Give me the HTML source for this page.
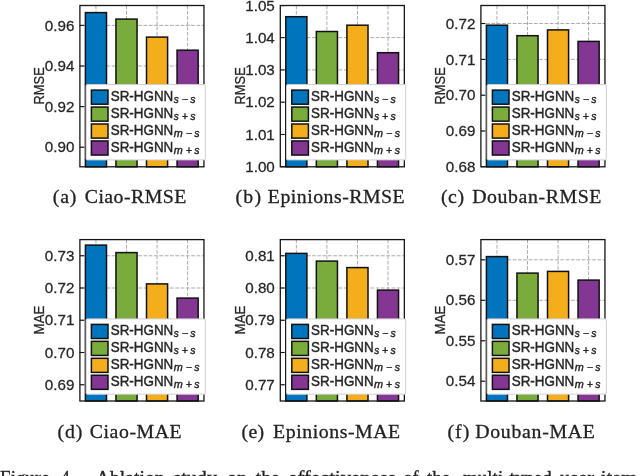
<!DOCTYPE html>
<html><head><meta charset="utf-8"><title>Figure 4</title>
<style>
html,body{margin:0;padding:0;background:#fff;}
body{width:640px;height:476px;overflow:hidden;}
svg{display:block;will-change:transform;}
text{font-family:"Liberation Sans",sans-serif;fill:#262626;}
.g{stroke:#a2a2a2;stroke-width:0.9;stroke-dasharray:3.7 1.6;}
.b{stroke:#111;stroke-width:1.5;}
.t{stroke:#151515;stroke-width:1.1;}
.f{stroke:#151515;stroke-width:1.3;}
.tl{font-size:14.2px;stroke:#262626;stroke-width:0.25;}
.lg{font-size:14.3px;stroke:#262626;stroke-width:0.42;}
.sub{font-size:10.5px;font-style:italic;stroke:#262626;stroke-width:0.4;}
.yl{font-size:14.2px;stroke:#262626;stroke-width:0.25;}
.cap{font-family:"Liberation Serif",serif;font-size:19.8px;fill:#222;stroke:#222;stroke-width:0.3;}
.fig{font-family:"Liberation Serif",serif;font-size:14.2px;fill:#2a2a2a;}
</style></head><body>
<svg width="640" height="476" viewBox="0 0 640 476">
<rect width="640" height="476" fill="#fff"/>
<line x1="79.9" x2="203.95" y1="25.4" y2="25.4" class="g"/>
<line x1="79.9" x2="203.95" y1="66" y2="66" class="g"/>
<line x1="79.9" x2="203.95" y1="106.6" y2="106.6" class="g"/>
<line x1="79.9" x2="203.95" y1="147.2" y2="147.2" class="g"/>
<line x1="95.95" x2="95.95" y1="5.5" y2="166.8" class="g"/>
<line x1="126.5" x2="126.5" y1="5.5" y2="166.8" class="g"/>
<line x1="157.05" x2="157.05" y1="5.5" y2="166.8" class="g"/>
<line x1="187.6" x2="187.6" y1="5.5" y2="166.8" class="g"/>
<rect x="85.4" y="12.6" width="21.1" height="154.2" fill="#0075BE" class="b"/>
<rect x="115.95" y="19.1" width="21.1" height="147.7" fill="#79AC3C" class="b"/>
<rect x="146.5" y="37.1" width="21.1" height="129.7" fill="#F4AE1C" class="b"/>
<rect x="177.05" y="50.2" width="21.1" height="116.6" fill="#833793" class="b"/>
<line x1="79.9" x2="84.4" y1="25.4" y2="25.4" class="t"/>
<text transform="translate(74.4,30.5) scale(1.07,1)" class="tl" text-anchor="end">0.96</text>
<line x1="79.9" x2="84.4" y1="66" y2="66" class="t"/>
<text transform="translate(74.4,71.1) scale(1.07,1)" class="tl" text-anchor="end">0.94</text>
<line x1="79.9" x2="84.4" y1="106.6" y2="106.6" class="t"/>
<text transform="translate(74.4,111.7) scale(1.07,1)" class="tl" text-anchor="end">0.92</text>
<line x1="79.9" x2="84.4" y1="147.2" y2="147.2" class="t"/>
<text transform="translate(74.4,152.3) scale(1.07,1)" class="tl" text-anchor="end">0.90</text>
<rect x="79.9" y="5.5" width="124.05" height="161.3" fill="none" class="f"/>
<rect x="86.1" y="84.6" width="119.2" height="75.3" rx="1.2" fill="#fff" stroke="#cfcfcf" stroke-width="1"/>
<rect x="91.4" y="90.1" width="16.6" height="14.1" fill="#0075BE" class="b"/>
<text x="110.7" y="100.95" class="lg" textLength="62.6" lengthAdjust="spacingAndGlyphs">SR-HGNN</text>
<text y="103.05" class="sub"><tspan x="173.8" textLength="5.0" lengthAdjust="spacingAndGlyphs">s</tspan><tspan x="181.7" dy="0">−</tspan><tspan x="190.2" dy="0">s</tspan></text>
<rect x="91.4" y="107.05" width="16.6" height="14.1" fill="#79AC3C" class="b"/>
<text x="110.7" y="117.85" class="lg" textLength="62.6" lengthAdjust="spacingAndGlyphs">SR-HGNN</text>
<text y="119.95" class="sub"><tspan x="173.8" textLength="5.0" lengthAdjust="spacingAndGlyphs">s</tspan><tspan x="181.7" dy="0">+</tspan><tspan x="190.2" dy="0">s</tspan></text>
<rect x="91.4" y="124" width="16.6" height="14.1" fill="#F4AE1C" class="b"/>
<text x="110.7" y="134.75" class="lg" textLength="62.6" lengthAdjust="spacingAndGlyphs">SR-HGNN</text>
<text y="136.85" class="sub"><tspan x="173.7" textLength="9.0" lengthAdjust="spacingAndGlyphs">m</tspan><tspan x="185.7" dy="0">−</tspan><tspan x="194.3" dy="0">s</tspan></text>
<rect x="91.4" y="140.95" width="16.6" height="14.1" fill="#833793" class="b"/>
<text x="110.7" y="151.65" class="lg" textLength="62.6" lengthAdjust="spacingAndGlyphs">SR-HGNN</text>
<text y="153.75" class="sub"><tspan x="173.7" textLength="9.0" lengthAdjust="spacingAndGlyphs">m</tspan><tspan x="185.7" dy="0">+</tspan><tspan x="194.3" dy="0">s</tspan></text>
<text transform="translate(44.2,85.85) rotate(-90)" class="yl" text-anchor="middle" textLength="37.2" lengthAdjust="spacingAndGlyphs">RMSE</text>
<text x="52.8" y="203.4" class="cap" textLength="23.5" lengthAdjust="spacing">(a)</text>
<text x="84.7" y="203.4" class="cap" textLength="101.7" lengthAdjust="spacing">Ciao-RMSE</text>
<line x1="280.3" x2="404.35" y1="37.6" y2="37.6" class="g"/>
<line x1="280.3" x2="404.35" y1="69.9" y2="69.9" class="g"/>
<line x1="280.3" x2="404.35" y1="102.2" y2="102.2" class="g"/>
<line x1="280.3" x2="404.35" y1="134.5" y2="134.5" class="g"/>
<line x1="296.35" x2="296.35" y1="5.5" y2="166.8" class="g"/>
<line x1="326.9" x2="326.9" y1="5.5" y2="166.8" class="g"/>
<line x1="357.45" x2="357.45" y1="5.5" y2="166.8" class="g"/>
<line x1="388" x2="388" y1="5.5" y2="166.8" class="g"/>
<rect x="285.8" y="16.7" width="21.1" height="150.1" fill="#0075BE" class="b"/>
<rect x="316.35" y="31.5" width="21.1" height="135.3" fill="#79AC3C" class="b"/>
<rect x="346.9" y="25.2" width="21.1" height="141.6" fill="#F4AE1C" class="b"/>
<rect x="377.45" y="52.7" width="21.1" height="114.1" fill="#833793" class="b"/>
<line x1="280.3" x2="284.8" y1="5.6" y2="5.6" class="t"/>
<text transform="translate(274.8,10.7) scale(1.07,1)" class="tl" text-anchor="end">1.05</text>
<line x1="280.3" x2="284.8" y1="37.6" y2="37.6" class="t"/>
<text transform="translate(274.8,42.7) scale(1.07,1)" class="tl" text-anchor="end">1.04</text>
<line x1="280.3" x2="284.8" y1="69.9" y2="69.9" class="t"/>
<text transform="translate(274.8,75) scale(1.07,1)" class="tl" text-anchor="end">1.03</text>
<line x1="280.3" x2="284.8" y1="102.2" y2="102.2" class="t"/>
<text transform="translate(274.8,107.3) scale(1.07,1)" class="tl" text-anchor="end">1.02</text>
<line x1="280.3" x2="284.8" y1="134.5" y2="134.5" class="t"/>
<text transform="translate(274.8,139.6) scale(1.07,1)" class="tl" text-anchor="end">1.01</text>
<line x1="280.3" x2="284.8" y1="166.7" y2="166.7" class="t"/>
<text transform="translate(274.8,171.8) scale(1.07,1)" class="tl" text-anchor="end">1.00</text>
<rect x="280.3" y="5.5" width="124.05" height="161.3" fill="none" class="f"/>
<rect x="286.5" y="84.6" width="119.2" height="75.3" rx="1.2" fill="#fff" stroke="#cfcfcf" stroke-width="1"/>
<rect x="291.8" y="90.1" width="16.6" height="14.1" fill="#0075BE" class="b"/>
<text x="311.1" y="100.95" class="lg" textLength="62.6" lengthAdjust="spacingAndGlyphs">SR-HGNN</text>
<text y="103.05" class="sub"><tspan x="374.2" textLength="5.0" lengthAdjust="spacingAndGlyphs">s</tspan><tspan x="382.1" dy="0">−</tspan><tspan x="390.6" dy="0">s</tspan></text>
<rect x="291.8" y="107.05" width="16.6" height="14.1" fill="#79AC3C" class="b"/>
<text x="311.1" y="117.85" class="lg" textLength="62.6" lengthAdjust="spacingAndGlyphs">SR-HGNN</text>
<text y="119.95" class="sub"><tspan x="374.2" textLength="5.0" lengthAdjust="spacingAndGlyphs">s</tspan><tspan x="382.1" dy="0">+</tspan><tspan x="390.6" dy="0">s</tspan></text>
<rect x="291.8" y="124" width="16.6" height="14.1" fill="#F4AE1C" class="b"/>
<text x="311.1" y="134.75" class="lg" textLength="62.6" lengthAdjust="spacingAndGlyphs">SR-HGNN</text>
<text y="136.85" class="sub"><tspan x="374.1" textLength="9.0" lengthAdjust="spacingAndGlyphs">m</tspan><tspan x="386.1" dy="0">−</tspan><tspan x="394.7" dy="0">s</tspan></text>
<rect x="291.8" y="140.95" width="16.6" height="14.1" fill="#833793" class="b"/>
<text x="311.1" y="151.65" class="lg" textLength="62.6" lengthAdjust="spacingAndGlyphs">SR-HGNN</text>
<text y="153.75" class="sub"><tspan x="374.1" textLength="9.0" lengthAdjust="spacingAndGlyphs">m</tspan><tspan x="386.1" dy="0">+</tspan><tspan x="394.7" dy="0">s</tspan></text>
<text transform="translate(244.6,85.85) rotate(-90)" class="yl" text-anchor="middle" textLength="37.2" lengthAdjust="spacingAndGlyphs">RMSE</text>
<text x="235.6" y="203.4" class="cap" textLength="25.4" lengthAdjust="spacing">(b)</text>
<text x="267.8" y="203.4" class="cap" textLength="136.9" lengthAdjust="spacing">Epinions-RMSE</text>
<line x1="480.9" x2="604.95" y1="23.5" y2="23.5" class="g"/>
<line x1="480.9" x2="604.95" y1="59.4" y2="59.4" class="g"/>
<line x1="480.9" x2="604.95" y1="95.2" y2="95.2" class="g"/>
<line x1="480.9" x2="604.95" y1="131" y2="131" class="g"/>
<line x1="496.95" x2="496.95" y1="5.5" y2="166.8" class="g"/>
<line x1="527.5" x2="527.5" y1="5.5" y2="166.8" class="g"/>
<line x1="558.05" x2="558.05" y1="5.5" y2="166.8" class="g"/>
<line x1="588.6" x2="588.6" y1="5.5" y2="166.8" class="g"/>
<rect x="486.4" y="25.2" width="21.1" height="141.6" fill="#0075BE" class="b"/>
<rect x="516.95" y="35.7" width="21.1" height="131.1" fill="#79AC3C" class="b"/>
<rect x="547.5" y="29.9" width="21.1" height="136.9" fill="#F4AE1C" class="b"/>
<rect x="578.05" y="41.4" width="21.1" height="125.4" fill="#833793" class="b"/>
<line x1="480.9" x2="485.4" y1="23.5" y2="23.5" class="t"/>
<text transform="translate(475.4,28.6) scale(1.07,1)" class="tl" text-anchor="end">0.72</text>
<line x1="480.9" x2="485.4" y1="59.4" y2="59.4" class="t"/>
<text transform="translate(475.4,64.5) scale(1.07,1)" class="tl" text-anchor="end">0.71</text>
<line x1="480.9" x2="485.4" y1="95.2" y2="95.2" class="t"/>
<text transform="translate(475.4,100.3) scale(1.07,1)" class="tl" text-anchor="end">0.70</text>
<line x1="480.9" x2="485.4" y1="131" y2="131" class="t"/>
<text transform="translate(475.4,136.1) scale(1.07,1)" class="tl" text-anchor="end">0.69</text>
<line x1="480.9" x2="485.4" y1="166.6" y2="166.6" class="t"/>
<text transform="translate(475.4,171.7) scale(1.07,1)" class="tl" text-anchor="end">0.68</text>
<rect x="480.9" y="5.5" width="124.05" height="161.3" fill="none" class="f"/>
<rect x="487.1" y="84.6" width="119.2" height="75.3" rx="1.2" fill="#fff" stroke="#cfcfcf" stroke-width="1"/>
<rect x="492.4" y="90.1" width="16.6" height="14.1" fill="#0075BE" class="b"/>
<text x="511.7" y="100.95" class="lg" textLength="62.6" lengthAdjust="spacingAndGlyphs">SR-HGNN</text>
<text y="103.05" class="sub"><tspan x="574.8" textLength="5.0" lengthAdjust="spacingAndGlyphs">s</tspan><tspan x="582.7" dy="0">−</tspan><tspan x="591.2" dy="0">s</tspan></text>
<rect x="492.4" y="107.05" width="16.6" height="14.1" fill="#79AC3C" class="b"/>
<text x="511.7" y="117.85" class="lg" textLength="62.6" lengthAdjust="spacingAndGlyphs">SR-HGNN</text>
<text y="119.95" class="sub"><tspan x="574.8" textLength="5.0" lengthAdjust="spacingAndGlyphs">s</tspan><tspan x="582.7" dy="0">+</tspan><tspan x="591.2" dy="0">s</tspan></text>
<rect x="492.4" y="124" width="16.6" height="14.1" fill="#F4AE1C" class="b"/>
<text x="511.7" y="134.75" class="lg" textLength="62.6" lengthAdjust="spacingAndGlyphs">SR-HGNN</text>
<text y="136.85" class="sub"><tspan x="574.7" textLength="9.0" lengthAdjust="spacingAndGlyphs">m</tspan><tspan x="586.7" dy="0">−</tspan><tspan x="595.3" dy="0">s</tspan></text>
<rect x="492.4" y="140.95" width="16.6" height="14.1" fill="#833793" class="b"/>
<text x="511.7" y="151.65" class="lg" textLength="62.6" lengthAdjust="spacingAndGlyphs">SR-HGNN</text>
<text y="153.75" class="sub"><tspan x="574.7" textLength="9.0" lengthAdjust="spacingAndGlyphs">m</tspan><tspan x="586.7" dy="0">+</tspan><tspan x="595.3" dy="0">s</tspan></text>
<text transform="translate(445.2,85.85) rotate(-90)" class="yl" text-anchor="middle" textLength="37.2" lengthAdjust="spacingAndGlyphs">RMSE</text>
<text x="440.9" y="203.4" class="cap" textLength="23.1" lengthAdjust="spacing">(c)</text>
<text x="472.2" y="203.4" class="cap" textLength="129.2" lengthAdjust="spacing">Douban-RMSE</text>
<line x1="79.9" x2="203.95" y1="255.75" y2="255.75" class="g"/>
<line x1="79.9" x2="203.95" y1="288" y2="288" class="g"/>
<line x1="79.9" x2="203.95" y1="320.25" y2="320.25" class="g"/>
<line x1="79.9" x2="203.95" y1="352.5" y2="352.5" class="g"/>
<line x1="79.9" x2="203.95" y1="384.75" y2="384.75" class="g"/>
<line x1="95.95" x2="95.95" y1="239.6" y2="401" class="g"/>
<line x1="126.5" x2="126.5" y1="239.6" y2="401" class="g"/>
<line x1="157.05" x2="157.05" y1="239.6" y2="401" class="g"/>
<line x1="187.6" x2="187.6" y1="239.6" y2="401" class="g"/>
<rect x="85.4" y="245.1" width="21.1" height="155.9" fill="#0075BE" class="b"/>
<rect x="115.95" y="252.6" width="21.1" height="148.4" fill="#79AC3C" class="b"/>
<rect x="146.5" y="283.9" width="21.1" height="117.1" fill="#F4AE1C" class="b"/>
<rect x="177.05" y="298.1" width="21.1" height="102.9" fill="#833793" class="b"/>
<line x1="79.9" x2="84.4" y1="255.75" y2="255.75" class="t"/>
<text transform="translate(74.4,260.85) scale(1.07,1)" class="tl" text-anchor="end">0.73</text>
<line x1="79.9" x2="84.4" y1="288" y2="288" class="t"/>
<text transform="translate(74.4,293.1) scale(1.07,1)" class="tl" text-anchor="end">0.72</text>
<line x1="79.9" x2="84.4" y1="320.25" y2="320.25" class="t"/>
<text transform="translate(74.4,325.35) scale(1.07,1)" class="tl" text-anchor="end">0.71</text>
<line x1="79.9" x2="84.4" y1="352.5" y2="352.5" class="t"/>
<text transform="translate(74.4,357.6) scale(1.07,1)" class="tl" text-anchor="end">0.70</text>
<line x1="79.9" x2="84.4" y1="384.75" y2="384.75" class="t"/>
<text transform="translate(74.4,389.85) scale(1.07,1)" class="tl" text-anchor="end">0.69</text>
<rect x="79.9" y="239.6" width="124.05" height="161.4" fill="none" class="f"/>
<rect x="86.1" y="318.9" width="119.2" height="75.3" rx="1.2" fill="#fff" stroke="#cfcfcf" stroke-width="1"/>
<rect x="91.4" y="324.4" width="16.6" height="14.1" fill="#0075BE" class="b"/>
<text x="110.7" y="335.25" class="lg" textLength="62.6" lengthAdjust="spacingAndGlyphs">SR-HGNN</text>
<text y="337.35" class="sub"><tspan x="173.8" textLength="5.0" lengthAdjust="spacingAndGlyphs">s</tspan><tspan x="181.7" dy="0">−</tspan><tspan x="190.2" dy="0">s</tspan></text>
<rect x="91.4" y="341.35" width="16.6" height="14.1" fill="#79AC3C" class="b"/>
<text x="110.7" y="352.15" class="lg" textLength="62.6" lengthAdjust="spacingAndGlyphs">SR-HGNN</text>
<text y="354.25" class="sub"><tspan x="173.8" textLength="5.0" lengthAdjust="spacingAndGlyphs">s</tspan><tspan x="181.7" dy="0">+</tspan><tspan x="190.2" dy="0">s</tspan></text>
<rect x="91.4" y="358.3" width="16.6" height="14.1" fill="#F4AE1C" class="b"/>
<text x="110.7" y="369.05" class="lg" textLength="62.6" lengthAdjust="spacingAndGlyphs">SR-HGNN</text>
<text y="371.15" class="sub"><tspan x="173.7" textLength="9.0" lengthAdjust="spacingAndGlyphs">m</tspan><tspan x="185.7" dy="0">−</tspan><tspan x="194.3" dy="0">s</tspan></text>
<rect x="91.4" y="375.25" width="16.6" height="14.1" fill="#833793" class="b"/>
<text x="110.7" y="385.95" class="lg" textLength="62.6" lengthAdjust="spacingAndGlyphs">SR-HGNN</text>
<text y="388.05" class="sub"><tspan x="173.7" textLength="9.0" lengthAdjust="spacingAndGlyphs">m</tspan><tspan x="185.7" dy="0">+</tspan><tspan x="194.3" dy="0">s</tspan></text>
<text transform="translate(44.2,320) rotate(-90)" class="yl" text-anchor="middle" textLength="28.8" lengthAdjust="spacingAndGlyphs">MAE</text>
<text x="57.5" y="437.7" class="cap" textLength="24.8" lengthAdjust="spacing">(d)</text>
<text x="89.7" y="437.7" class="cap" textLength="92" lengthAdjust="spacing">Ciao-MAE</text>
<line x1="280.3" x2="404.35" y1="255.75" y2="255.75" class="g"/>
<line x1="280.3" x2="404.35" y1="288" y2="288" class="g"/>
<line x1="280.3" x2="404.35" y1="320.25" y2="320.25" class="g"/>
<line x1="280.3" x2="404.35" y1="352.5" y2="352.5" class="g"/>
<line x1="280.3" x2="404.35" y1="384.75" y2="384.75" class="g"/>
<line x1="296.35" x2="296.35" y1="239.6" y2="401" class="g"/>
<line x1="326.9" x2="326.9" y1="239.6" y2="401" class="g"/>
<line x1="357.45" x2="357.45" y1="239.6" y2="401" class="g"/>
<line x1="388" x2="388" y1="239.6" y2="401" class="g"/>
<rect x="285.8" y="253.4" width="21.1" height="147.6" fill="#0075BE" class="b"/>
<rect x="316.35" y="261.1" width="21.1" height="139.9" fill="#79AC3C" class="b"/>
<rect x="346.9" y="267.6" width="21.1" height="133.4" fill="#F4AE1C" class="b"/>
<rect x="377.45" y="290.1" width="21.1" height="110.9" fill="#833793" class="b"/>
<line x1="280.3" x2="284.8" y1="255.75" y2="255.75" class="t"/>
<text transform="translate(274.8,260.85) scale(1.07,1)" class="tl" text-anchor="end">0.81</text>
<line x1="280.3" x2="284.8" y1="288" y2="288" class="t"/>
<text transform="translate(274.8,293.1) scale(1.07,1)" class="tl" text-anchor="end">0.80</text>
<line x1="280.3" x2="284.8" y1="320.25" y2="320.25" class="t"/>
<text transform="translate(274.8,325.35) scale(1.07,1)" class="tl" text-anchor="end">0.79</text>
<line x1="280.3" x2="284.8" y1="352.5" y2="352.5" class="t"/>
<text transform="translate(274.8,357.6) scale(1.07,1)" class="tl" text-anchor="end">0.78</text>
<line x1="280.3" x2="284.8" y1="384.75" y2="384.75" class="t"/>
<text transform="translate(274.8,389.85) scale(1.07,1)" class="tl" text-anchor="end">0.77</text>
<rect x="280.3" y="239.6" width="124.05" height="161.4" fill="none" class="f"/>
<rect x="286.5" y="318.9" width="119.2" height="75.3" rx="1.2" fill="#fff" stroke="#cfcfcf" stroke-width="1"/>
<rect x="291.8" y="324.4" width="16.6" height="14.1" fill="#0075BE" class="b"/>
<text x="311.1" y="335.25" class="lg" textLength="62.6" lengthAdjust="spacingAndGlyphs">SR-HGNN</text>
<text y="337.35" class="sub"><tspan x="374.2" textLength="5.0" lengthAdjust="spacingAndGlyphs">s</tspan><tspan x="382.1" dy="0">−</tspan><tspan x="390.6" dy="0">s</tspan></text>
<rect x="291.8" y="341.35" width="16.6" height="14.1" fill="#79AC3C" class="b"/>
<text x="311.1" y="352.15" class="lg" textLength="62.6" lengthAdjust="spacingAndGlyphs">SR-HGNN</text>
<text y="354.25" class="sub"><tspan x="374.2" textLength="5.0" lengthAdjust="spacingAndGlyphs">s</tspan><tspan x="382.1" dy="0">+</tspan><tspan x="390.6" dy="0">s</tspan></text>
<rect x="291.8" y="358.3" width="16.6" height="14.1" fill="#F4AE1C" class="b"/>
<text x="311.1" y="369.05" class="lg" textLength="62.6" lengthAdjust="spacingAndGlyphs">SR-HGNN</text>
<text y="371.15" class="sub"><tspan x="374.1" textLength="9.0" lengthAdjust="spacingAndGlyphs">m</tspan><tspan x="386.1" dy="0">−</tspan><tspan x="394.7" dy="0">s</tspan></text>
<rect x="291.8" y="375.25" width="16.6" height="14.1" fill="#833793" class="b"/>
<text x="311.1" y="385.95" class="lg" textLength="62.6" lengthAdjust="spacingAndGlyphs">SR-HGNN</text>
<text y="388.05" class="sub"><tspan x="374.1" textLength="9.0" lengthAdjust="spacingAndGlyphs">m</tspan><tspan x="386.1" dy="0">+</tspan><tspan x="394.7" dy="0">s</tspan></text>
<text transform="translate(244.6,320) rotate(-90)" class="yl" text-anchor="middle" textLength="28.8" lengthAdjust="spacingAndGlyphs">MAE</text>
<text x="241.6" y="437.7" class="cap" textLength="22.4" lengthAdjust="spacing">(e)</text>
<text x="273.1" y="437.7" class="cap" textLength="127.1" lengthAdjust="spacing">Epinions-MAE</text>
<line x1="480.9" x2="604.95" y1="259.8" y2="259.8" class="g"/>
<line x1="480.9" x2="604.95" y1="300.3" y2="300.3" class="g"/>
<line x1="480.9" x2="604.95" y1="340.8" y2="340.8" class="g"/>
<line x1="480.9" x2="604.95" y1="381.2" y2="381.2" class="g"/>
<line x1="496.95" x2="496.95" y1="239.6" y2="401" class="g"/>
<line x1="527.5" x2="527.5" y1="239.6" y2="401" class="g"/>
<line x1="558.05" x2="558.05" y1="239.6" y2="401" class="g"/>
<line x1="588.6" x2="588.6" y1="239.6" y2="401" class="g"/>
<rect x="486.4" y="256.6" width="21.1" height="144.4" fill="#0075BE" class="b"/>
<rect x="516.95" y="273.1" width="21.1" height="127.9" fill="#79AC3C" class="b"/>
<rect x="547.5" y="271.4" width="21.1" height="129.6" fill="#F4AE1C" class="b"/>
<rect x="578.05" y="280.1" width="21.1" height="120.9" fill="#833793" class="b"/>
<line x1="480.9" x2="485.4" y1="259.8" y2="259.8" class="t"/>
<text transform="translate(475.4,264.9) scale(1.07,1)" class="tl" text-anchor="end">0.57</text>
<line x1="480.9" x2="485.4" y1="300.3" y2="300.3" class="t"/>
<text transform="translate(475.4,305.4) scale(1.07,1)" class="tl" text-anchor="end">0.56</text>
<line x1="480.9" x2="485.4" y1="340.8" y2="340.8" class="t"/>
<text transform="translate(475.4,345.9) scale(1.07,1)" class="tl" text-anchor="end">0.55</text>
<line x1="480.9" x2="485.4" y1="381.2" y2="381.2" class="t"/>
<text transform="translate(475.4,386.3) scale(1.07,1)" class="tl" text-anchor="end">0.54</text>
<rect x="480.9" y="239.6" width="124.05" height="161.4" fill="none" class="f"/>
<rect x="487.1" y="318.9" width="119.2" height="75.3" rx="1.2" fill="#fff" stroke="#cfcfcf" stroke-width="1"/>
<rect x="492.4" y="324.4" width="16.6" height="14.1" fill="#0075BE" class="b"/>
<text x="511.7" y="335.25" class="lg" textLength="62.6" lengthAdjust="spacingAndGlyphs">SR-HGNN</text>
<text y="337.35" class="sub"><tspan x="574.8" textLength="5.0" lengthAdjust="spacingAndGlyphs">s</tspan><tspan x="582.7" dy="0">−</tspan><tspan x="591.2" dy="0">s</tspan></text>
<rect x="492.4" y="341.35" width="16.6" height="14.1" fill="#79AC3C" class="b"/>
<text x="511.7" y="352.15" class="lg" textLength="62.6" lengthAdjust="spacingAndGlyphs">SR-HGNN</text>
<text y="354.25" class="sub"><tspan x="574.8" textLength="5.0" lengthAdjust="spacingAndGlyphs">s</tspan><tspan x="582.7" dy="0">+</tspan><tspan x="591.2" dy="0">s</tspan></text>
<rect x="492.4" y="358.3" width="16.6" height="14.1" fill="#F4AE1C" class="b"/>
<text x="511.7" y="369.05" class="lg" textLength="62.6" lengthAdjust="spacingAndGlyphs">SR-HGNN</text>
<text y="371.15" class="sub"><tspan x="574.7" textLength="9.0" lengthAdjust="spacingAndGlyphs">m</tspan><tspan x="586.7" dy="0">−</tspan><tspan x="595.3" dy="0">s</tspan></text>
<rect x="492.4" y="375.25" width="16.6" height="14.1" fill="#833793" class="b"/>
<text x="511.7" y="385.95" class="lg" textLength="62.6" lengthAdjust="spacingAndGlyphs">SR-HGNN</text>
<text y="388.05" class="sub"><tspan x="574.7" textLength="9.0" lengthAdjust="spacingAndGlyphs">m</tspan><tspan x="586.7" dy="0">+</tspan><tspan x="595.3" dy="0">s</tspan></text>
<text transform="translate(445.2,320) rotate(-90)" class="yl" text-anchor="middle" textLength="28.8" lengthAdjust="spacingAndGlyphs">MAE</text>
<text x="447.5" y="437.7" class="cap" textLength="21.8" lengthAdjust="spacing">(f)</text>
<text x="475.2" y="437.7" class="cap" textLength="119.7" lengthAdjust="spacing">Douban-MAE</text>
<text x="0.1" y="483.6" class="cap" textLength="49.45" lengthAdjust="spacingAndGlyphs">Figure</text>
<text x="60.85" y="483.6" class="cap" textLength="13.45" lengthAdjust="spacingAndGlyphs">4.</text>
<text x="95.85" y="483.6" class="cap" textLength="68.7" lengthAdjust="spacingAndGlyphs">Ablation</text>
<text x="173.35" y="483.6" class="cap" textLength="43.7" lengthAdjust="spacingAndGlyphs">study</text>
<text x="227.1" y="483.6" class="cap" textLength="19.95" lengthAdjust="spacingAndGlyphs">on</text>
<text x="255.85" y="483.6" class="cap" textLength="23.7" lengthAdjust="spacingAndGlyphs">the</text>
<text x="288.35" y="483.6" class="cap" textLength="107.45" lengthAdjust="spacingAndGlyphs">effectiveness</text>
<text x="403.35" y="483.6" class="cap" textLength="15.45" lengthAdjust="spacingAndGlyphs">of</text>
<text x="427.1" y="483.6" class="cap" textLength="23.2" lengthAdjust="spacingAndGlyphs">the</text>
<text x="463" y="483.6" class="cap" textLength="88.8" lengthAdjust="spacingAndGlyphs">multi-typed</text>
<text x="559.9" y="483.6" class="cap" textLength="77.4" lengthAdjust="spacingAndGlyphs">user-item</text>
</svg>
</body></html>
